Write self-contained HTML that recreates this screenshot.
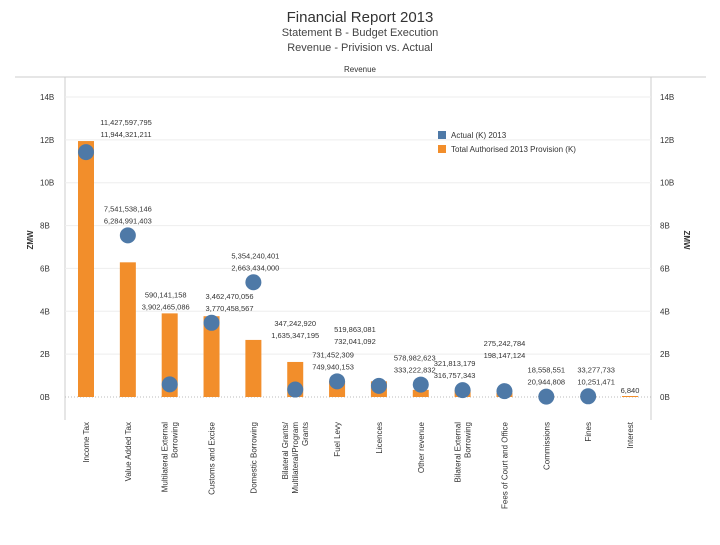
<!DOCTYPE html>
<html><head><meta charset="utf-8"><style>
body{margin:0;background:#fff;font-family:"Liberation Sans",sans-serif}
svg text{font-family:"Liberation Sans",sans-serif}
</style></head><body>
<svg width="720" height="540" viewBox="0 0 720 540">
<text x="360" y="22" text-anchor="middle" font-size="15" fill="#333">Financial Report 2013</text>
<text x="360" y="36" text-anchor="middle" font-size="11" fill="#444">Statement B - Budget Execution</text>
<text x="360" y="51" text-anchor="middle" font-size="11" fill="#444">Revenue - Privision vs. Actual</text>
<text x="360" y="72" text-anchor="middle" font-size="8" fill="#333">Revenue</text>
<line x1="15" y1="77" x2="706" y2="77" stroke="#ccc"/>
<line x1="65" y1="77" x2="65" y2="420" stroke="#ccc"/>
<line x1="651" y1="77" x2="651" y2="420" stroke="#ccc"/>
<text transform="translate(33,240) rotate(-90)" text-anchor="middle" font-size="8" font-weight="bold" fill="#333">ZMW</text>
<text transform="translate(684,240) rotate(90)" text-anchor="middle" font-size="8" font-weight="bold" fill="#333">ZMW</text>
<g>
<rect x="438" y="131" width="8" height="8" fill="#4e79a7"/>
<text x="451" y="138" font-size="8" fill="#333">Actual (K) 2013</text>
<rect x="438" y="145" width="8" height="8" fill="#f28e2b"/>
<text x="451" y="152" font-size="8" fill="#333">Total Authorised 2013 Provision (K)</text>
</g>
<g id="plot"></g>
</svg>
<script>
const categories=["Income Tax","Value Added Tax","Multilateral External|Borrowing","Customs and Excise","Domestic Borrowing","Bilateral Grants/|Multilateral/Program|Grants","Fuel Levy","Licences","Other revenue","Bilateral External|Borrowing","Fees of Court and Office","Commissions","Fines","Interest"];
const actual=[11427597795,7541538146,590141158,3462470056,5354240401,347242920,731452309,519863081,578982623,321813179,275242784,18558551,33277733,null];
const provision=[11944321211,6284991403,3902465086,3770458567,2663434000,1635347195,749940153,732041092,333222832,316757343,198147124,20944808,10251471,6840];
const actualLabels=["11,427,597,795","7,541,538,146","590,141,158","3,462,470,056","5,354,240,401","347,242,920","731,452,309","519,863,081","578,982,623","321,813,179","275,242,784","18,558,551","33,277,733",""];
const provisionLabels=["11,944,321,211","6,284,991,403","3,902,465,086","3,770,458,567","2,663,434,000","1,635,347,195","749,940,153","732,041,092","333,222,832","316,757,343","198,147,124","20,944,808","10,251,471","6,840"];
const ticks=[0,2e9,4e9,6e9,8e9,10e9,12e9,14e9];
const tickLabels=["0B","2B","4B","6B","8B","10B","12B","14B"];
// label layout tweaks (pixels, not data)
const labelLift=[0,0,0,0,0,20,0,30,0,0,21,0,0,0];
const labelShift=[40,0,-4,18,2,0,-4,-24,-6,-8,0,0,8,0];
const ns="http://www.w3.org/2000/svg";
const g=document.getElementById('plot');
const y=v=>397-v/14e9*300;
const n=categories.length;
const x=i=>86+i*(630-86)/(n-1);
function mk(t,a){const e=document.createElementNS(ns,t);for(const k in a)e.setAttribute(k,a[k]);g.appendChild(e);return e;}
ticks.forEach((t,i)=>{
 const l=mk('line',{x1:65,x2:651,y1:y(t),y2:y(t),stroke:t===0?'#bbb':'#eee','stroke-dasharray':t===0?'1,2':''});
 
 
 const a=mk('text',{x:40,y:y(t)+3,'font-size':8,fill:'#333'});a.textContent=tickLabels[i];
 
 
 const b=mk('text',{x:660,y:y(t)+3,'font-size':8,fill:'#333'});b.textContent=tickLabels[i];
 
 
});
categories.forEach((c,i)=>{
 const cx=x(i);
 const h=Math.max(1,397-y(provision[i]));
 const r=mk('rect',{x:cx-8,y:397-h,width:16,height:h,fill:'#f28e2b'});
 
 
 let top=y(provision[i]);
 if(actual[i]!==null){
  const d=mk('circle',{cx:cx,cy:y(actual[i]),r:8,fill:'#4e79a7'});
  
  
  top=Math.min(top,y(actual[i])-8);
 }
 const lx=cx+labelShift[i];
 const base=top-4-labelLift[i];
 const t=mk('text',{x:lx,y:base-12,'font-size':7.5,fill:'#333','text-anchor':'middle'});
 
 
 if(actualLabels[i]){const s=document.createElementNS(ns,'tspan');s.setAttribute('x',lx);s.textContent=actualLabels[i];t.appendChild(s);}
 const s2=document.createElementNS(ns,'tspan');s2.setAttribute('x',lx);s2.setAttribute('dy',12);s2.textContent=provisionLabels[i];t.appendChild(s2);
 const lines=c.split('|');
 lines.forEach((ln,j)=>{
  const tx=cx+3+(j-(lines.length-1)/2)*10;
  const ct=mk('text',{transform:`translate(${tx},422) rotate(-90)`,'text-anchor':'end','font-size':8,fill:'#333'});
  ct.textContent=ln;
  
  
 });
});
</script>
</body></html>
